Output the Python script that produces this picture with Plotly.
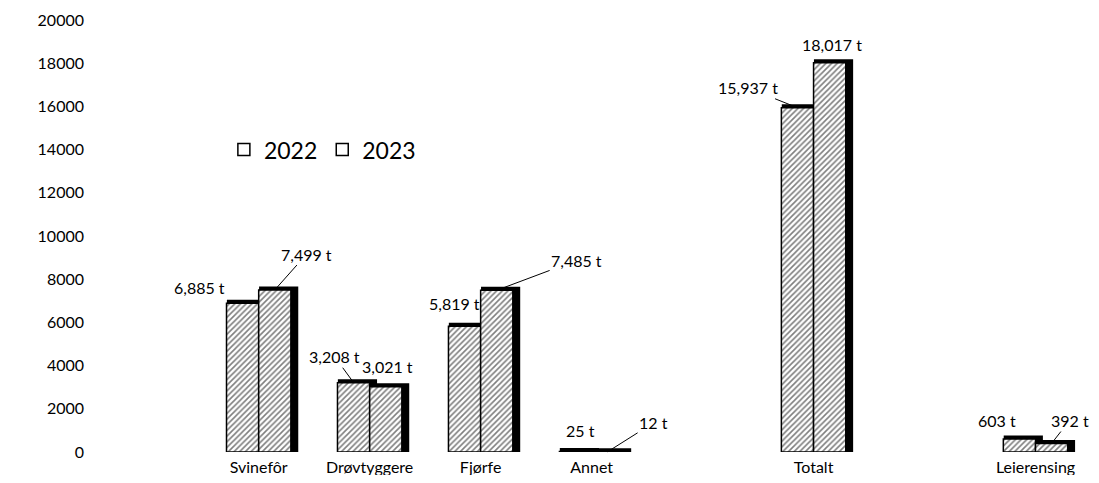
import plotly.graph_objects as go

categories = ["Svinefôr", "Drøvtyggere", "Fjørfe", "Annet", " ", "Totalt", "  ", "Leierensing"]
values_2022 = [6885, 3208, 5819, 25, None, 15937, None, 603]
values_2023 = [7499, 3021, 7485, 12, None, 18017, None, 392]
series_names = ["2022", "2023"]
y_ticks = [0, 2000, 4000, 6000, 8000, 10000, 12000, 14000, 16000, 18000, 20000]

FONT = "Lato"
BAR_W = 0.29
DEPTH_SHIFT = 0.035

# label placement: (dx, dy, arrow) in pixels relative to bar top, per series
label_pos_2022 = {
    "Svinefôr": (-43, -16, False), "Drøvtyggere": (-19, -26, True), "Fjørfe": (-10, -23, False),
    "Annet": (5, -21, False), "Totalt": (-50, -20, True), "Leierensing": (-23, -18, False),
}
label_pos_2023 = {
    "Svinefôr": (32, -36, True), "Drøvtyggere": (2, -20, False), "Fjørfe": (80, -30, True),
    "Annet": (46, -29, True), "Totalt": (2, -18, False), "Leierensing": (18, -23, True),
}

fig = go.Figure()

offsets = [-BAR_W, 0.0]
all_vals = [values_2022, values_2023]

# black depth (3D side/top) behind faces
for vals, off in zip(all_vals, offsets):
    fig.add_trace(go.Bar(
        x=categories, y=vals, width=BAR_W, offset=off + DEPTH_SHIFT,
        marker=dict(color="black", line=dict(color="black", width=7)),
        showlegend=False, hoverinfo="skip",
    ))

# hatched faces
for vals, off, name in zip(all_vals, offsets, series_names):
    fig.add_trace(go.Bar(
        x=categories, y=vals, width=BAR_W, offset=off, name=name,
        marker=dict(color="white", line=dict(color="black", width=1.5),
                    pattern=dict(shape="/", fgcolor="black", bgcolor="white", size=4, solidity=0.4)),
        showlegend=False,
    ))

# legend entries (empty squares as in the original)
for name in series_names:
    fig.add_trace(go.Bar(
        x=[None], y=[None], name=name,
        marker=dict(color="white", line=dict(color="black", width=1.5)),
        showlegend=True,
    ))

annotations = []
for vals, pos, sign in [(values_2022, label_pos_2022, -1), (values_2023, label_pos_2023, 1)]:
    for cat, v in zip(categories, vals):
        if v is None:
            continue
        dx, dy, arrow = pos[cat]
        xs = sign * 16
        text = f"{v:,} t"
        if arrow:
            annotations.append(dict(
                x=cat, y=v, xref="x", yref="y", xshift=xs, text=text,
                showarrow=True, arrowhead=0, arrowwidth=1, arrowcolor="black",
                ax=dx, ay=dy, font=dict(family=FONT, size=16, color="black"),
            ))
        else:
            annotations.append(dict(
                x=cat, y=v, xref="x", yref="y", xshift=xs + dx, yshift=-dy, text=text,
                showarrow=False, xanchor="center", yanchor="middle",
                font=dict(family=FONT, size=16, color="black"),
            ))

fig.update_layout(
    width=1083, height=467,
    barmode="overlay",
    paper_bgcolor="white", plot_bgcolor="white",
    margin=dict(l=92, r=0, t=12, b=23),
    font=dict(family=FONT, size=16, color="black"),
    annotations=annotations,
    legend=dict(orientation="h", x=0.125, y=0.70, xanchor="left", yanchor="middle",
                font=dict(family=FONT, size=23, color="black"), bgcolor="rgba(0,0,0,0)"),
    xaxis=dict(type="category", range=[-1.43, 7.5], showgrid=False, showline=False,
               zeroline=False, ticks="", tickfont=dict(family=FONT, size=16),
               categoryorder="array", categoryarray=categories, ticklabelstandoff=4),
    yaxis=dict(range=[0, 20000], tickvals=y_ticks, ticktext=[str(t) for t in y_ticks],
               showgrid=False, showline=False, zeroline=False, ticks="",
               tickfont=dict(family=FONT, size=16), ticklabelstandoff=15),
)

fig.write_html("out.html")
